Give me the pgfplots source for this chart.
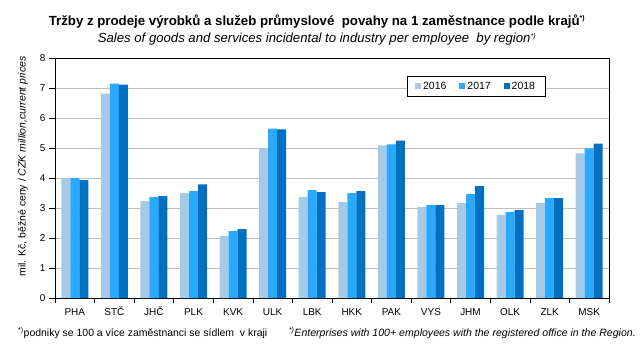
\documentclass[border=0pt]{standalone}
\usepackage{pgfplots}
\pgfplotsset{compat=1.18}
\usepackage{fontspec}
\setmainfont{Liberation Sans}
\definecolor{c16}{HTML}{A6CAE6}
\definecolor{c17}{HTML}{29A9FF}
\definecolor{c18}{HTML}{0070C0}
\definecolor{gridc}{HTML}{BFBFBF}
\begin{document}
\begin{tikzpicture}
\begin{axis}[
  at={(0,0)}, anchor=south west,
  scale only axis, width=554bp, height=240bp,
  ybar=0pt, bar width=9bp,
  xmin=-0.5, xmax=13.5, ymin=0, ymax=8,
  xtick={0,...,13},
  xticklabels={PHA,STČ,JHČ,PLK,KVK,ULK,LBK,HKK,PAK,VYS,JHM,OLK,ZLK,MSK},
  minor xtick={-0.5,0.5,...,13.5},
  major x tick style={draw=none},
  minor tick length=5bp,
  ytick={0,...,8},
  major tick length=6bp,
  tick align=outside,
  xtick pos=bottom, ytick pos=left,
  ymajorgrids, grid style={gridc, line width=0.8pt},
  axis line style={black, line width=0.8pt},
  tick style={black, line width=0.6pt},
  tick label style={font=\fontsize{10}{12}\selectfont},
  xticklabel style={text height=9bp, text depth=0pt, yshift=1bp},
  /pgf/number format/assume math mode=true,
  ylabel={mil. Kč, běžné ceny / \textit{CZK million,current prices}},
  ylabel style={font=\fontsize{10.5}{12}\selectfont, at={(axis description cs:-0.058,0.548)}, anchor=center},
  legend style={at={(0.635,0.925)}, anchor=north west, draw=black, line width=0.8pt,
    font=\fontsize{10.5}{12}\selectfont, legend columns=3,
    /tikz/every even column/.append style={column sep=11bp},
    /tikz/every odd column/.append style={column sep=0bp},
    inner ysep=3.5bp, inner xsep=8bp},
  legend image code/.code={\fill[#1] (1bp,-3bp) rectangle (7bp,3bp);},
]
\addplot[fill=c16, draw=none] coordinates {(0,3.98) (1,6.81) (2,3.23) (3,3.50) (4,2.07) (5,4.99) (6,3.36) (7,3.20) (8,5.09) (9,3.03) (10,3.16) (11,2.77) (12,3.16) (13,4.82)};
\addplot[fill=c17, draw=none] coordinates {(0,4.00) (1,7.15) (2,3.36) (3,3.56) (4,2.23) (5,5.65) (6,3.60) (7,3.50) (8,5.12) (9,3.10) (10,3.46) (11,2.87) (12,3.33) (13,4.99)};
\addplot[fill=c18, draw=none] coordinates {(0,3.93) (1,7.11) (2,3.40) (3,3.79) (4,2.30) (5,5.62) (6,3.53) (7,3.56) (8,5.25) (9,3.10) (10,3.73) (11,2.93) (12,3.33) (13,5.15)};
\legend{2016,2017,2018}
\end{axis}
\node[font=\fontsize{13.3}{15}\selectfont\bfseries] at (262bp,276bp) {Tržby z prodeje výrobků a služeb průmyslové\ \ povahy na 1 zaměstnance podle krajů\textsuperscript{\scriptsize *)}};
\node[font=\fontsize{13.2}{15}\selectfont\itshape] at (262bp,259bp) {Sales of goods and services incidental to industry per employee\ \ by region\textsuperscript{\scriptsize *)}};
\node[anchor=west, font=\fontsize{10.5}{12}\selectfont, inner sep=0pt] at (-37bp,-35bp) {\textsuperscript{\scriptsize *)}podniky se 100 a více zaměstnanci se sídlem\ \ v kraji};
\node[anchor=east, font=\fontsize{10.6}{12}\selectfont\itshape, inner sep=0pt] at (581bp,-35bp) {\textsuperscript{\scriptsize *)}Enterprises with 100+ employees with the registered office in the Region.};
\path[use as bounding box] (-55bp,-56bp) rectangle (588bp,298bp);
\end{tikzpicture}
\end{document}
